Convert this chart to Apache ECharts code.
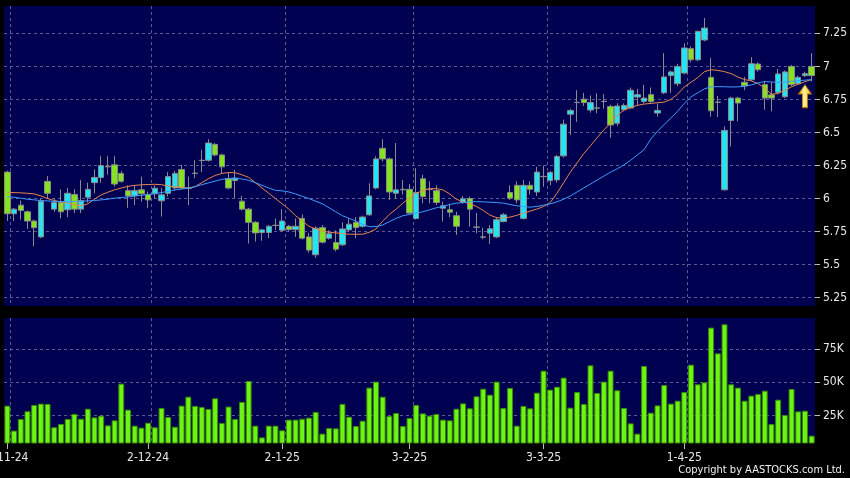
<!DOCTYPE html>
<html><head><meta charset="utf-8">
<script src="https://cdn.jsdelivr.net/npm/echarts@6/dist/echarts.min.js"></script>
<style>html,body{margin:0;padding:0;background:#000;}#c{width:850px;height:478px;}</style>
</head><body><div id="c"></div>
<script>
const dates = [
"1-11-24","4-11-24","5-11-24","6-11-24","7-11-24","8-11-24","11-11-24","12-11-24","13-11-24","14-11-24","15-11-24","18-11-24","19-11-24","20-11-24","21-11-24","22-11-24","25-11-24","26-11-24","27-11-24","28-11-24","29-11-24",
"2-12-24","3-12-24","4-12-24","5-12-24","6-12-24","9-12-24","10-12-24","11-12-24","12-12-24","13-12-24","16-12-24","17-12-24","18-12-24","19-12-24","20-12-24","23-12-24","24-12-24","27-12-24","30-12-24","31-12-24",
"2-1-25","3-1-25","6-1-25","7-1-25","8-1-25","9-1-25","10-1-25","13-1-25","14-1-25","15-1-25","16-1-25","17-1-25","20-1-25","21-1-25","22-1-25","23-1-25","24-1-25","27-1-25","28-1-25",
"3-2-25","4-2-25","5-2-25","6-2-25","7-2-25","10-2-25","11-2-25","12-2-25","13-2-25","14-2-25","17-2-25","18-2-25","19-2-25","20-2-25","21-2-25","24-2-25","25-2-25","26-2-25","27-2-25","28-2-25",
"3-3-25","4-3-25","5-3-25","6-3-25","7-3-25","10-3-25","11-3-25","12-3-25","13-3-25","14-3-25","17-3-25","18-3-25","19-3-25","20-3-25","21-3-25","24-3-25","25-3-25","26-3-25","27-3-25","28-3-25","31-3-25",
"1-4-25","2-4-25","3-4-25","7-4-25","8-4-25","9-4-25","10-4-25","11-4-25","14-4-25","15-4-25","16-4-25","17-4-25","22-4-25","23-4-25","24-4-25","25-4-25","28-4-25","29-4-25","30-4-25",
"2-5-25"];
const tickDates = ["1-11-24","2-12-24","2-1-25","3-2-25","3-3-25","1-4-25"];

const open = [
6.20,5.885,5.95,5.90,5.83,5.71,6.13,5.92,5.97,5.915,6.03,5.92,6.01,6.12,6.16,6.24,6.255,6.19,6.06,6.02,6.066,
6.03,6.036,5.983,6.04,6.08,6.22,6.08,6.19,6.287,6.29,6.41,6.33,6.15,6.136,5.98,5.92,5.82,5.743,5.743,5.796,
5.76,5.79,5.765,5.85,5.71,5.575,5.78,5.70,5.667,5.65,5.763,5.82,5.79,5.877,6.08,6.38,6.30,6.04,6.066,6.07,
5.85,6.15,6.068,6.06,5.927,5.915,5.87,5.972,6.0,5.783,5.708,5.738,5.71,5.826,6.046,6.10,5.85,6.10,6.05,6.166,
6.136,6.141,6.323,6.638,6.726,6.752,6.67,6.684,6.734,6.696,6.57,6.672,6.685,6.768,6.735,6.786,6.647,6.80,6.932,6.869,
6.95,7.134,7.05,7.20,6.917,6.728,6.066,6.591,6.76,6.88,6.899,7.018,6.862,6.785,6.804,6.77,7.0,6.869,6.93,7.0];
const close = [
5.885,5.92,5.91,5.83,5.78,5.98,6.04,5.97,5.90,6.04,5.92,5.985,6.07,6.16,6.25,6.245,6.11,6.13,6.02,6.06,6.036,
5.99,6.078,6.028,6.166,6.19,6.08,6.078,6.192,6.29,6.42,6.33,6.24,6.08,6.154,5.92,5.82,5.74,5.763,5.79,5.798,
5.83,5.765,5.79,5.70,5.61,5.775,5.67,5.733,5.617,5.77,5.806,5.78,5.86,6.02,6.30,6.30,6.05,6.066,6.07,5.89,
6.045,6.015,6.07,5.97,5.945,5.897,5.79,5.998,5.92,5.785,5.71,5.771,5.84,5.877,6.003,5.99,6.10,6.07,6.20,6.168,
6.197,6.318,6.563,6.666,6.728,6.726,6.726,6.686,6.736,6.557,6.70,6.705,6.82,6.786,6.76,6.735,6.667,6.92,6.958,7.0,
7.139,7.05,7.265,7.29,6.665,6.73,6.516,6.76,6.723,6.853,7.02,6.975,6.76,6.76,6.943,6.958,6.862,6.917,6.945,6.93];
const low = [
5.83,5.83,5.84,5.77,5.64,5.70,6.0,5.90,5.85,5.86,5.89,5.89,5.97,6.04,6.12,6.18,6.09,6.12,5.93,5.95,5.977,
5.927,6.0,5.864,6.015,6.06,6.07,5.95,6.154,6.20,6.28,6.32,6.19,6.07,6.003,5.91,5.66,5.675,5.68,5.70,5.763,
5.75,5.75,5.71,5.69,5.59,5.55,5.66,5.69,5.60,5.64,5.75,5.70,5.78,5.87,6.07,6.28,5.99,6.0,6.03,5.88,
5.84,5.965,5.965,5.95,5.826,5.86,5.725,5.96,5.788,5.738,5.693,5.657,5.70,5.82,5.99,5.965,5.84,6.03,6.02,6.09,
6.10,6.12,6.31,6.48,6.58,6.70,6.65,6.646,6.68,6.46,6.55,6.66,6.68,6.70,6.72,6.72,6.62,6.79,6.80,6.85,
6.94,7.03,7.04,7.19,6.62,6.617,6.06,6.394,6.584,6.82,6.89,6.96,6.672,6.66,6.79,6.76,6.85,6.86,6.92,6.886];
const high = [
6.21,5.93,5.985,5.91,5.84,6.0,6.17,6.0,6.07,6.08,6.07,6.14,6.12,6.22,6.32,6.32,6.32,6.21,6.10,6.10,6.166,
6.053,6.10,6.078,6.20,6.21,6.255,6.166,6.29,6.37,6.449,6.42,6.34,6.20,6.217,6.02,5.93,5.83,5.77,5.80,5.85,
5.92,5.80,5.85,5.88,5.74,5.79,5.80,5.76,5.76,5.82,5.85,5.86,5.87,6.116,6.32,6.449,6.31,6.42,6.14,6.11,
6.23,6.18,6.13,6.10,5.977,5.96,5.9,6.02,6.015,5.89,5.78,5.80,5.86,5.89,6.10,6.13,6.14,6.13,6.24,6.25,
6.21,6.33,6.597,6.68,6.82,6.80,6.78,6.797,6.79,6.71,6.72,6.72,6.84,6.83,6.86,6.84,6.72,7.1,6.97,7.02,
7.175,7.15,7.27,7.366,7.063,6.778,6.546,6.77,6.77,6.92,7.07,7.03,6.89,6.88,6.98,6.97,7.01,6.93,6.96,7.10];

const maShort = [
6.045,6.045,6.043,6.04,6.035,6.02,6.0,5.985,5.975,5.965,5.955,5.945,5.96,5.995,6.028,6.048,6.066,6.08,6.092,6.1,6.104,
6.106,6.108,6.105,6.095,6.088,6.082,6.078,6.09,6.12,6.15,6.175,6.19,6.197,6.195,6.18,6.16,6.12,6.08,6.04,6.0,
5.96,5.92,5.87,5.83,5.79,5.77,5.755,5.745,5.74,5.735,5.73,5.73,5.73,5.745,5.77,5.83,5.88,5.92,5.965,6.005,
6.04,6.06,6.075,6.075,6.065,6.035,5.995,5.975,5.96,5.94,5.91,5.875,5.855,5.852,5.86,5.873,5.89,5.905,5.92,5.94,
5.97,6.04,6.12,6.2,6.27,6.34,6.4,6.46,6.52,6.57,6.63,6.67,6.69,6.705,6.715,6.72,6.725,6.73,6.75,6.79,
6.845,6.88,6.915,6.96,6.975,6.97,6.96,6.945,6.92,6.9,6.89,6.87,6.835,6.79,6.795,6.82,6.845,6.865,6.885,6.9];
const maLong = [
6.015,6.01,6.003,5.995,5.99,5.985,5.982,5.979,5.977,5.977,5.978,5.98,5.982,5.985,5.99,5.995,6.003,6.008,6.012,6.02,6.025,
6.03,6.038,6.045,6.055,6.065,6.072,6.078,6.09,6.105,6.118,6.132,6.145,6.152,6.155,6.148,6.138,6.12,6.10,6.08,6.062,
6.058,6.05,6.035,6.017,6.0,5.98,5.96,5.93,5.9,5.87,5.85,5.83,5.805,5.787,5.788,5.80,5.825,5.85,5.87,5.88,
5.89,5.90,5.915,5.93,5.94,5.955,5.965,5.97,5.975,5.977,5.975,5.972,5.97,5.965,5.955,5.945,5.94,5.935,5.94,5.95,
5.96,5.975,5.995,6.02,6.05,6.08,6.11,6.14,6.17,6.2,6.225,6.255,6.29,6.33,6.37,6.45,6.51,6.56,6.61,6.66,
6.72,6.77,6.8,6.83,6.845,6.847,6.846,6.844,6.845,6.85,6.86,6.875,6.885,6.882,6.878,6.882,6.887,6.892,6.896,6.9];

// volume in thousands of shares
const volume = [
32.5,13.8,22.5,28.3,33,34,33.8,16.3,18.8,22.5,26.3,22.7,30.2,23.7,25,17.7,21.5,49,29.5,17.5,16,
19.7,16.3,30.8,24,16.7,32.5,39.2,32.3,31.5,30,38,19.5,31.8,22.5,35.3,51,17.5,8.7,17.5,17.5,
14,22,22,22.7,23.5,27.8,11.5,15.7,15.5,33.8,24.2,17.2,21.2,46,50.5,39.2,24.7,27,17.2,
23.2,33,26.7,25,26.3,22,21.5,30.2,34.2,30.5,39.5,45.2,40.7,50.5,30.8,45.8,17.5,32.3,30.5,42.2,
58.7,44.5,46.7,53.5,31,42.7,33.7,62.7,42,50.5,58.7,44,30.8,19.2,11.5,62.2,27.2,32.7,48,34,36.2,
42.7,63.2,48.5,50,91,71.7,93.5,48.5,46,36.2,40,41.2,43.7,18.7,37,25.5,45,28.2,28.7,
10];

const priceTicks = [5.25,5.5,5.75,6,6.25,6.5,6.75,7,7.25];
const volTicks = [25,50,75];
const arrowMark = {date: "30-4-25", price: 6.775};

const candles = dates.map((d, i) => [open[i], close[i], low[i], high[i]]);
const isTick = (i) => tickDates.includes(dates[i]);
const isEdge = (i) => i > 0 && tickDates.includes(dates[i - 1]);

const NAVY = '#000050';
const GRIDC = '#5a5a92';
const FONT = "'DejaVu Sans Condensed', 'DejaVu Sans', sans-serif";
const LBL = {color: '#e8e8e8', fontSize: 12, fontFamily: FONT};

const chart = echarts.init(document.getElementById('c'), null, {renderer: 'canvas'});
chart.setOption({
  animation: false,
  backgroundColor: '#000',
  title: {text: 'Copyright by AASTOCKS.com Ltd.', right: 5, bottom: 2, padding: 0,
    textStyle: {color: '#f0f0f0', fontSize: 11, fontWeight: 'normal', fontFamily: FONT}},
  grid: [
    {left: 4, top: 6, width: 811, height: 300, show: true, backgroundColor: NAVY, borderWidth: 0, outerBoundsMode: 'none', containLabel: false},
    {left: 4, top: 318, width: 811, height: 125, show: true, backgroundColor: NAVY, borderWidth: 0, outerBoundsMode: 'none', containLabel: false}
  ],
  xAxis: [
    {type: 'category', gridIndex: 0, data: dates, boundaryGap: true,
      axisLine: {show: false}, axisTick: {show: false}, axisLabel: {show: false},
      splitLine: {show: true, interval: isEdge, showMaxLine: false, lineStyle: {color: GRIDC, type: [3, 3]}}},
    {type: 'category', gridIndex: 1, data: dates, boundaryGap: true,
      axisLine: {show: false},
      axisTick: {show: true, alignWithLabel: true, interval: isTick, length: 6, lineStyle: {color: '#bbb'}},
      axisLabel: Object.assign({interval: isTick, margin: 9, alignMinLabel: 'center', hideOverlap: false}, LBL),
      splitLine: {show: true, interval: isEdge, showMaxLine: false, lineStyle: {color: GRIDC, type: [3, 3]}}}
  ],
  yAxis: [
    {type: 'value', gridIndex: 0, position: 'right', min: 5.187, max: 7.457,
      axisLine: {show: false},
      axisTick: {show: true, length: 5, customValues: priceTicks, lineStyle: {color: '#bbb'}},
      axisLabel: Object.assign({customValues: priceTicks, margin: 8, formatter: v => String(v)}, LBL),
      splitLine: {show: true, lineStyle: {color: GRIDC, type: [3, 3]}}},
    {type: 'value', gridIndex: 1, position: 'right', min: 4.5, max: 98.2,
      axisLine: {show: false},
      axisTick: {show: true, length: 5, customValues: volTicks, lineStyle: {color: '#bbb'}},
      axisLabel: Object.assign({customValues: volTicks, margin: 8, formatter: v => v + 'K'}, LBL),
      splitLine: {show: true, lineStyle: {color: GRIDC, type: [3, 3]}}}
  ],
  series: [
    {type: 'candlestick', xAxisIndex: 0, yAxisIndex: 0, data: candles, barWidth: '88%',
      itemStyle: {color: '#22e4f5', color0: '#84e21e', borderColor: '#8a8a8a', borderColor0: '#8a8a8a', borderWidth: 1},
      markPoint: {silent: true, label: {show: false},
        data: [{coord: [arrowMark.date, arrowMark.price],
          symbol: 'path://M6,0 L12,9 L8.5,9 L8.5,22 L3.5,22 L3.5,9 L0,9 Z',
          symbolSize: [13, 23],
          itemStyle: {color: new echarts.graphic.LinearGradient(0, 0, 1, 0, [
            {offset: 0, color: '#e0a000'}, {offset: 0.45, color: '#fff3a0'}, {offset: 1, color: '#e8a800'}]),
            borderColor: '#b07000', borderWidth: 0.8}}]}},
    {type: 'line', xAxisIndex: 0, yAxisIndex: 0, data: maShort, symbol: 'none',
      lineStyle: {color: '#e8874d', width: 1}, z: 3},
    {type: 'line', xAxisIndex: 0, yAxisIndex: 0, data: maLong, symbol: 'none',
      lineStyle: {color: '#3d9cff', width: 1}, z: 3},
    {type: 'bar', xAxisIndex: 1, yAxisIndex: 1, data: volume, barCategoryGap: '12%',
      itemStyle: {color: '#6cf512', borderColor: '#3a8a06', borderWidth: 1}}
  ]
});
</script></body></html>
